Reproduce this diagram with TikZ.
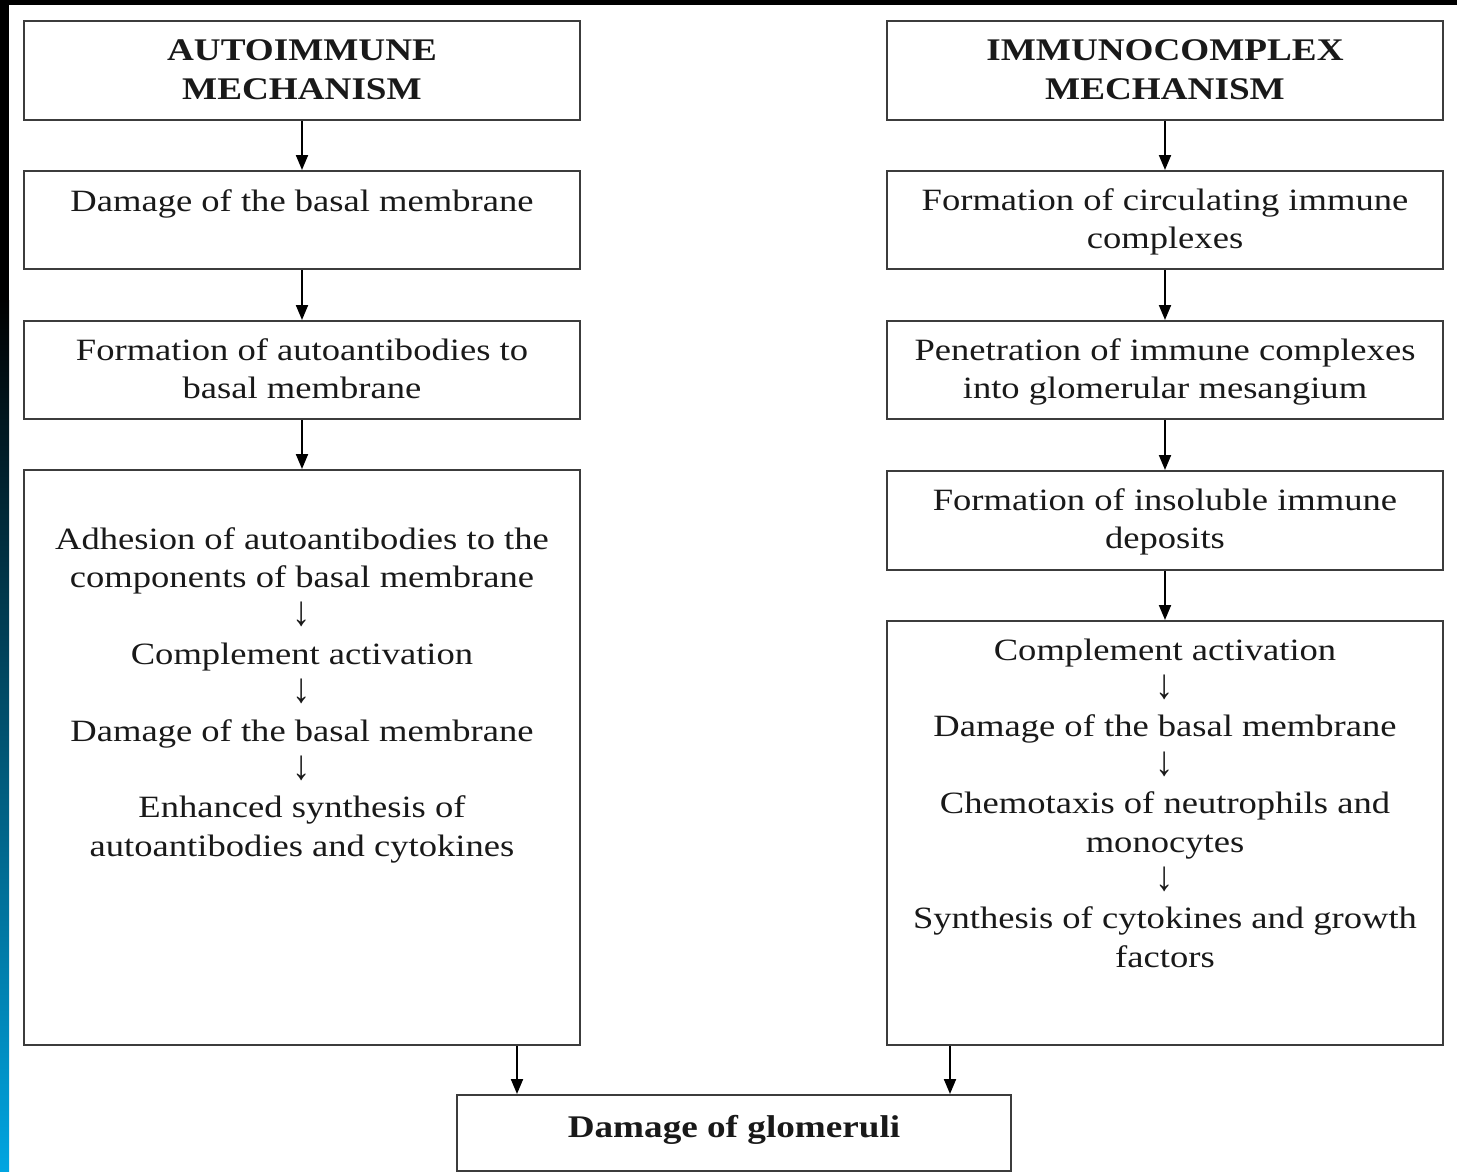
\documentclass[tikz,border=0pt]{standalone}
\usepackage{graphicx}
\usepackage{fontspec}
\setmainfont[FakeStretch=1.18]{Liberation Serif}
\usetikzlibrary{arrows.meta}
\definecolor{edge}{RGB}{60,60,60}
\definecolor{ink}{RGB}{25,25,25}
\definecolor{stripblue}{RGB}{0,165,225}
\newcommand{\dn}{\scalebox{1}[1.35]{↓}}
\begin{document}
\begin{tikzpicture}[x=1pt,y=-1pt,
  box/.style={draw=edge, line width=2pt, fill=white, minimum width=556pt, inner sep=0pt, anchor=north},
  txt/.style={text=ink, align=center, inner sep=0pt, anchor=north, font=\fontsize{31}{38.4}\selectfont},
  ttl/.style={text=ink, align=center, inner sep=0pt, anchor=north, font=\fontsize{31.5}{39}\selectfont\bfseries},
  arr/.style={draw=black, line width=2pt, -{Triangle[width=12pt,length=15pt]}}]
\useasboundingbox (0,0) rectangle (1457,1171);
% background
\fill[white] (0,0) rectangle (1457,1171);
\fill[black] (0,0) rectangle (1457,5);
\fill[black] (0,0) rectangle (9,300);
\shade[top color=black, bottom color=stripblue] (0,300) rectangle (9,1171);
% left column
\node[box, minimum height=99pt] (l1) at (302,20) {};
\node[box, minimum height=98pt] (l2) at (302,170) {};
\node[box, minimum height=98pt] (l3) at (302,320) {};
\node[box, minimum height=575pt] (l4) at (302,469) {};
\node[ttl] (l1t) at (302,32.7) {\strut AUTOIMMUNE\\MECHANISM};
\node[txt] (l2t) at (302,184.1) {\strut Damage of the basal membrane};
\node[txt] (l3t) at (302,333.1) {\strut Formation of autoantibodies to\\basal membrane};
\node[txt] (l4t) at (302,522.1) {\strut Adhesion of autoantibodies to the\\components of basal membrane\\\dn\\Complement activation\\\dn\\Damage of the basal membrane\\\dn\\Enhanced synthesis of\\autoantibodies and cytokines};
% right column
\node[box, minimum height=99pt] (r1) at (1165,20) {};
\node[box, minimum height=98pt] (r2) at (1165,170) {};
\node[box, minimum height=98pt] (r3) at (1165,320) {};
\node[box, minimum height=99pt] (r4) at (1165,470) {};
\node[box, minimum height=424pt] (r5) at (1165,620) {};
\node[ttl] (r1t) at (1165,32.7) {\strut IMMUNOCOMPLEX\\MECHANISM};
\node[txt] (r2t) at (1165,183.1) {\strut Formation of circulating immune\\complexes};
\node[txt] (r3t) at (1165,333.1) {\strut Penetration of immune complexes\\into glomerular mesangium};
\node[txt] (r4t) at (1165,483.1) {\strut Formation of insoluble immune\\deposits};
\node[txt] (r5t) at (1165,633.1) {\strut Complement activation\\\dn\\Damage of the basal membrane\\\dn\\Chemotaxis of neutrophils and\\monocytes\\\dn\\Synthesis of cytokines and growth\\factors};
% bottom
\node[box, minimum width=554pt, minimum height=76pt] (g) at (734,1094) {};
\node[ttl] (gt) at (734,1109.7) {\strut Damage of glomeruli};
% connectors
\draw[arr] (l1) -- (l2);
\draw[arr] (l2) -- (l3);
\draw[arr] (l3) -- (l4.north);
\draw[arr] (r1) -- (r2);
\draw[arr] (r2) -- (r3);
\draw[arr] (r3) -- (r4);
\draw[arr] (r4) -- (r5.north);
\draw[arr] ([xshift=215pt]l4.south) -- ([xshift=215pt]l4.south |- g.north);
\draw[arr] ([xshift=-215pt]r5.south) -- ([xshift=-215pt]r5.south |- g.north);
\end{tikzpicture}
\end{document}
